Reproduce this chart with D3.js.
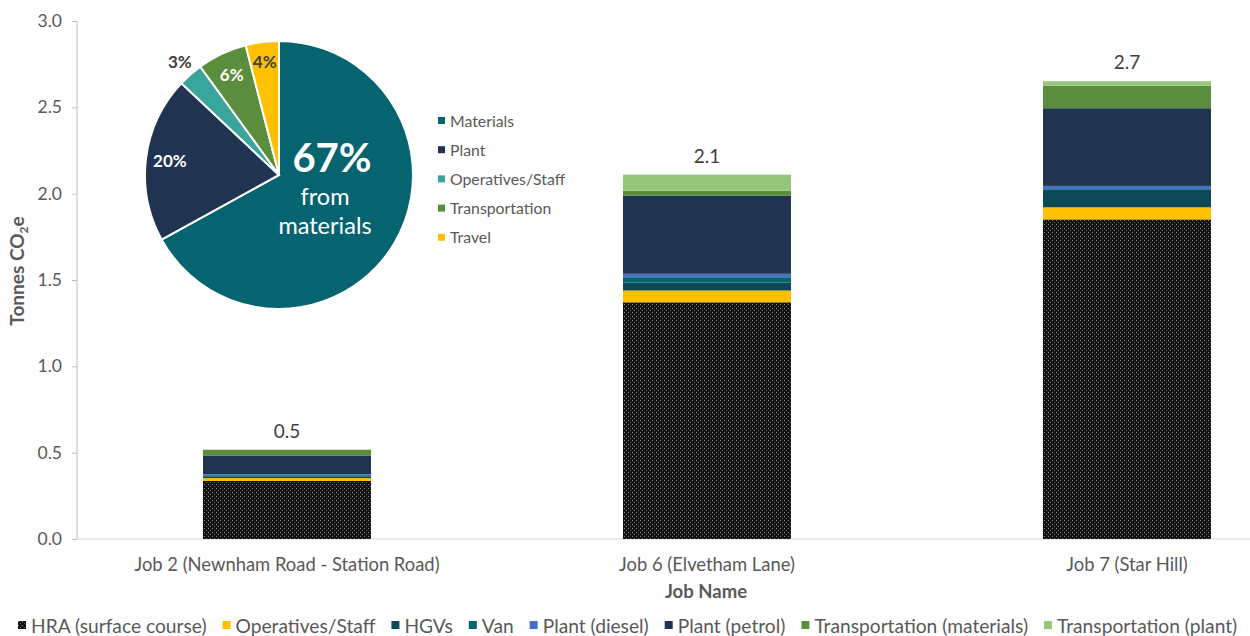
<!DOCTYPE html>
<html lang="en">
<head>
<meta charset="UTF-8">
<script src="https://d3js.org/d3.v7.min.js"></script>
<style>
    body { margin: 0; background: #fff; font-family: Lato, "Open Sans", sans-serif; }
    .axis text { fill: #595959; font-size: 17.5px; font-family: Lato, sans-serif; }
    .axis path, .axis line { stroke: #bfbfbf; }
</style>
</head>
<body>
<div id="chart"></div>
<script>
// ---- data ----
const jobs = ["Job 2 (Newnham Road - Station Road)", "Job 6 (Elvetham Lane)", "Job 7 (Star Hill)"];
const seriesNames = ["HRA (surface course)", "Operatives/Staff", "HGVs", "Van", "Plant (diesel)",
    "Plant (petrol)", "Transportation (materials)", "Transportation (plant)"];
const hra        = [0.336, 1.371, 1.851];
const operatives = [0.017, 0.068, 0.070];
const hgvs       = [0.006, 0.046, 0.100];
const van        = [0.005, 0.031, 0.005];
const plantDiesel= [0.010, 0.020, 0.019];
const plantPetrol= [0.110, 0.452, 0.450];
const transMat   = [0.033, 0.029, 0.131];
const transPlant = [0.000, 0.093, 0.025];
const yTicks = [0, 0.5, 1.0, 1.5, 2.0, 2.5, 3.0];

const pieNames = ["Materials", "Plant", "Operatives/Staff", "Transportation", "Travel"];
const pieValues = [67, 20, 3, 6, 4];

const seriesColors = ["url(#dots)", "#ffc000", "#0b4a55", "#066470", "#4472c4", "#203451", "#5a8e3c", "#95c77b"];
const legendSwatch = ["#111", "#ffc000", "#0b4a55", "#066470", "#4472c4", "#203451", "#5a8e3c", "#95c77b"];
const pieColors = ["#066470", "#203451", "#3aa59a", "#5a8e3c", "#ffc000"];

const W = 1250, H = 636;
const svg = d3.select("#chart").append("svg").attr("width", W).attr("height", H);

const defs = svg.append("defs");
const pat = defs.append("pattern").attr("id", "dots").attr("patternUnits", "userSpaceOnUse")
    .attr("width", 4).attr("height", 4);
pat.append("rect").attr("width", 4).attr("height", 4).attr("fill", "#111");
pat.append("rect").attr("x", 0).attr("y", 0).attr("width", 1).attr("height", 1).attr("fill", "#8a8a8a");
pat.append("rect").attr("x", 2).attr("y", 2).attr("width", 1).attr("height", 1).attr("fill", "#6a6a6a");

// ---- scales ----
const x = d3.scaleBand().domain(jobs).range([77, 1337]).padding(0);
const barW = x.bandwidth() * 0.4;
const y = d3.scaleLinear().domain([0, 3]).range([539, 21]);

const rows = jobs.map((j, i) => ({
    job: j,
    [seriesNames[0]]: hra[i], [seriesNames[1]]: operatives[i], [seriesNames[2]]: hgvs[i],
    [seriesNames[3]]: van[i], [seriesNames[4]]: plantDiesel[i], [seriesNames[5]]: plantPetrol[i],
    [seriesNames[6]]: transMat[i], [seriesNames[7]]: transPlant[i]
}));
const stacked = d3.stack().keys(seriesNames)(rows);

// axes
svg.append("g").attr("class", "axis")
    .attr("transform", "translate(77,0)")
    .call(d3.axisLeft(y).tickValues(yTicks).tickFormat(d3.format(".1f")).tickSize(5).tickPadding(10))
    .call(g => g.select(".domain").attr("d", "M0,21V539"));

svg.append("line").attr("x1", 77).attr("x2", W).attr("y1", y(0)).attr("y2", y(0))
    .attr("stroke", "#d9d9d9");

// bars
svg.selectAll(".layer").data(stacked).enter().append("g")
    .attr("fill", (d, i) => seriesColors[i])
    .selectAll("rect").data(d => d).enter().append("rect")
    .attr("x", d => x(d.data.job) + (x.bandwidth() - barW) / 2)
    .attr("y", d => y(d[1]))
    .attr("width", barW)
    .attr("height", d => y(d[0]) - y(d[1]));

// total labels
const totals = rows.map(r => d3.sum(seriesNames, k => r[k]));
svg.selectAll(".total").data(jobs).enter().append("text")
    .attr("x", d => x(d) + x.bandwidth() / 2)
    .attr("y", (d, i) => y(totals[i]) - 12)
    .attr("text-anchor", "middle")
    .attr("fill", "#404040").attr("font-size", 19)
    .text((d, i) => totals[i].toFixed(1));

// category labels
svg.selectAll(".cat").data(jobs).enter().append("text")
    .attr("x", d => x(d) + x.bandwidth() / 2)
    .attr("y", 571)
    .attr("text-anchor", "middle")
    .attr("fill", "#595959").attr("font-size", 18.4)
    .text(d => d);

svg.append("text").attr("x", 706).attr("y", 598).attr("text-anchor", "middle")
    .attr("fill", "#595959").attr("font-size", 18.5).attr("font-weight", "bold").text("Job Name");

const yt = svg.append("text").attr("transform", "translate(24,271) rotate(-90)")
    .attr("text-anchor", "middle").attr("fill", "#595959")
    .attr("font-size", 19).attr("font-weight", "bold");
yt.append("tspan").text("Tonnes CO");
yt.append("tspan").attr("font-size", 12).attr("dy", 4).text("2");
yt.append("tspan").attr("dy", -4).text("e");

// bottom legend (flow layout)
const leg = svg.append("g").attr("transform", "translate(18,633)");
let lx = 0;
seriesNames.forEach((n, i) => {
    const g = leg.append("g").attr("transform", `translate(${lx},0)`);
    g.append("rect").attr("x", 0).attr("y", -12).attr("width", 8).attr("height", 8)
        .attr("fill", i === 0 ? "url(#dots)" : legendSwatch[i]);
    const t = g.append("text").attr("x", 13).attr("y", 0).attr("fill", "#595959")
        .attr("font-size", 19.2).text(n);
    lx += 13 + t.node().getComputedTextLength() + 16;
});

// ---- pie ----
const cx = 279, cy = 175, r = 134;
const pieG = svg.append("g").attr("transform", `translate(${cx},${cy})`);
const arcs = d3.pie().sort(null).value(d => d)(pieValues);
const arc = d3.arc().innerRadius(0).outerRadius(r);
pieG.selectAll("path").data(arcs).enter().append("path")
    .attr("d", arc).attr("fill", (d, i) => pieColors[i])
    .attr("stroke", "#fff").attr("stroke-width", 2);

const labelR = [null, 110, 150, 111, 114];
const labelC = [null, "#fff", "#404040", "#fff", "#404040"];
arcs.forEach((a, i) => {
    if (i === 0) return;
    const c = d3.arc().innerRadius(labelR[i]).outerRadius(labelR[i]).centroid(a);
    pieG.append("text").attr("x", c[0]).attr("y", c[1]).attr("dy", "0.35em")
        .attr("text-anchor", "middle").attr("fill", labelC[i])
        .attr("font-size", 17).attr("font-weight", "bold").text(pieValues[i] + "%");
});
pieG.append("text").attr("x", 53).attr("y", -3).attr("text-anchor", "middle")
    .attr("fill", "#fff").attr("font-size", 40).attr("font-weight", "bold").text(pieValues[0] + "%");
pieG.append("text").attr("x", 46).attr("y", 30).attr("text-anchor", "middle")
    .attr("fill", "#fff").attr("font-size", 23.5).text("from");
pieG.append("text").attr("x", 46).attr("y", 59).attr("text-anchor", "middle")
    .attr("fill", "#fff").attr("font-size", 23.5).text("materials");

// pie legend
const pl = svg.append("g").attr("transform", "translate(438,121)");
pieNames.forEach((n, i) => {
    pl.append("rect").attr("x", 0).attr("y", 29.2 * i - 4).attr("width", 7).attr("height", 7).attr("fill", pieColors[i]);
    pl.append("text").attr("x", 12).attr("y", 29.2 * i).attr("dy", "0.35em")
        .attr("fill", "#595959").attr("font-size", 15.8).text(n);
});
</script>
</body>
</html>
